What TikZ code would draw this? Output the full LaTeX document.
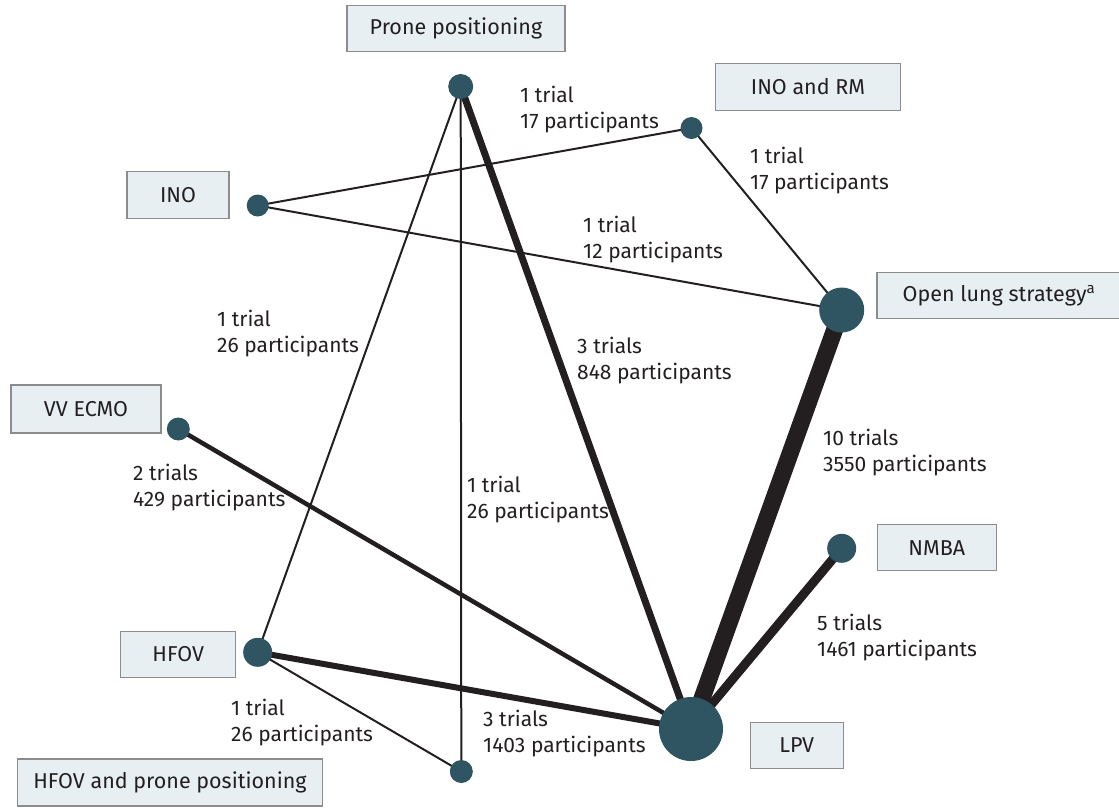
\documentclass[tikz,border=0pt]{standalone}
\usepackage{fontspec}
\setmainfont{Fira Sans}
\usetikzlibrary{backgrounds}
\definecolor{dotc}{HTML}{2E5561}
\definecolor{boxfill}{HTML}{E7EFF3}
\definecolor{boxdraw}{HTML}{8C8C8C}
\definecolor{ink}{HTML}{231F20}
\tikzset{
  dot/.style={circle, fill=dotc, inner sep=0pt, minimum size=#1},
  tbox/.style={draw=boxdraw, line width=1.4pt, fill=boxfill, inner sep=0pt, text=ink,
    font=\fontsize{21.5}{24}\selectfont},
  lbl/.style={anchor=base west, inner sep=0pt, align=left, text=ink,
    font=\fontsize{21}{26}\selectfont},
  edge/.style={draw=ink, line width=#1}
}
\begin{document}
\begin{tikzpicture}[x=1pt,y=-1pt]
\useasboundingbox (0,0) rectangle (1119,807);
% dots
\node[dot=25] (prone) at (460.7,86.5) {};
\node[dot=22] (inorm) at (691.5,128) {};
\node[dot=22] (ino) at (257.7,205.5) {};
\node[dot=45] (open) at (841.7,310) {};
\node[dot=23] (ecmo) at (178.3,429) {};
\node[dot=29] (nmba) at (841.7,548.3) {};
\node[dot=29] (hfov) at (257.7,652.3) {};
\node[dot=64] (lpv) at (691,729) {};
\node[dot=23] (hfovpr) at (461.3,771.5) {};
% boxes
\node[tbox, minimum width=218pt, minimum height=46pt] (bprone) at (456,28.5) {Prone positioning};
\node[tbox, minimum width=185pt, minimum height=47pt] (binorm) at (808,87) {INO and RM};
\node[tbox, minimum width=102pt, minimum height=47pt] (bino) at (178,195) {INO};
\node[tbox, minimum width=244pt, minimum height=46pt] (bopen) at (999,295.5) {Open lung strategy\textsuperscript{a}};
\node[tbox, minimum width=150pt, minimum height=48pt] (becmo) at (86,409) {VV ECMO};
\node[tbox, minimum width=119pt, minimum height=46pt] (bnmba) at (936.7,547.7) {NMBA};
\node[tbox, minimum width=115pt, minimum height=46pt] (bhfov) at (178.2,654.2) {HFOV};
\node[tbox, minimum width=93pt, minimum height=46pt] (blpv) at (796.7,745.5) {LPV};
\node[tbox, minimum width=305pt, minimum height=47pt] (bhfovpr) at (170,782.5) {HFOV and prone positioning};
% edges
\begin{scope}[on background layer]
\draw[edge=2pt] (prone.center) -- (hfov.center);
\draw[edge=2pt] (prone.center) -- (hfovpr.center);
\draw[edge=7pt] (prone.center) -- (lpv.center);
\draw[edge=2pt] (ino.center) -- (inorm.center);
\draw[edge=2pt] (inorm.center) -- (open.center);
\draw[edge=2pt] (ino.center) -- (open.center);
\draw[edge=17pt] (open.center) -- (lpv.center);
\draw[edge=4.5pt] (ecmo.center) -- (lpv.center);
\draw[edge=9pt] (nmba.center) -- (lpv.center);
\draw[edge=6pt] (hfov.center) -- (lpv.center);
\draw[edge=2pt] (hfov.center) -- (hfovpr.center);
\end{scope}
% labels (anchor = baseline of the second line)
\node[lbl] (l1) at (520,128) {1 trial\\17 participants};
\node[lbl] (l2) at (750,189) {1 trial\\17 participants};
\node[lbl] (l3) at (583,258) {1 trial\\12 participants};
\node[lbl] (l4) at (217,352) {1 trial\\26 participants};
\node[lbl] (l5) at (577,379) {3 trials\\848 participants};
\node[lbl] (l6) at (823,471) {10 trials\\3550 participants};
\node[lbl] (l7) at (133,506) {2 trials\\429 participants};
\node[lbl] (l8) at (467,518) {1 trial\\26 participants};
\node[lbl] (l9) at (817,656) {5 trials\\1461 participants};
\node[lbl] (l10) at (231,741) {1 trial\\26 participants};
\node[lbl] (l11) at (483,752) {3 trials\\1403 participants};
\end{tikzpicture}
\end{document}
